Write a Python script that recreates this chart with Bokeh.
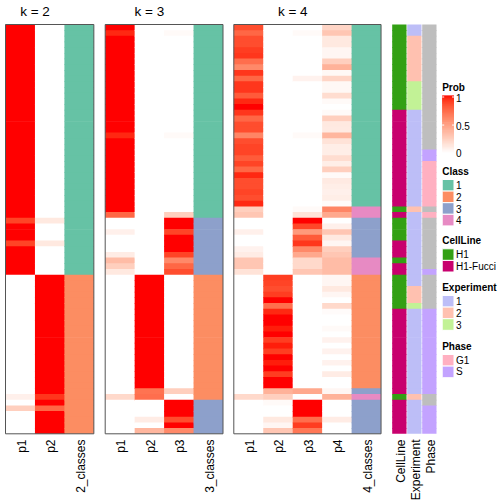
import math
import numpy as np
from bokeh.plotting import figure
from bokeh.models import Range1d, ColumnDataSource
from bokeh.transform import linear_cmap, factor_cmap
from bokeh.core.properties import value
from bokeh.embed import file_html
from bokeh.resources import INLINE

# ---------------- data ----------------
k2_p1 = [1, 1, 1, 1, 1, 1, 1, 1, 1, 1, 1, 1,
         1, 1, 1, 1, 1, 1, 1, 1, 1, 1, 1, 1,
         1, 1, 1, 1, 1, 1, 1, 1, 1, 1, 0.88, 1,
         1, 1, 0.88, 1, 1, 1, 1, 1, 0, 0, 0, 0,
         0, 0, 0, 0, 0, 0, 0, 0, 0, 0, 0, 0,
         0, 0, 0, 0, 0, 0.08, 0, 0.25, 0, 0, 0, 0]
k2_p2 = [0, 0, 0, 0, 0, 0, 0, 0, 0, 0, 0, 0,
         0, 0, 0, 0, 0, 0, 0, 0, 0, 0, 0, 0,
         0, 0, 0, 0, 0, 0, 0, 0, 0, 0, 0.12, 0,
         0, 0, 0.12, 0, 0, 0, 0, 0, 1, 1, 1, 1,
         1, 1, 1, 1, 1, 1, 1, 1, 1, 1, 1, 1,
         1, 1, 1, 1, 1, 0.92, 1, 0.75, 1, 1, 1, 1]
k2_class = list("111111111111" "111111111111" "111111111111"
                "111111112222" "222222222222" "222222222222")

k3_p1 = [1, 0.95, 1, 1, 1, 1, 1, 1, 1, 1, 1, 1,
         1, 1, 1, 1, 1, 1, 1, 0.95, 1, 1, 1, 1,
         1, 1, 1, 1, 1, 1, 1, 1, 1, 0.75, 0, 0,
         0.08, 0, 0, 0, 0.1, 0.35, 0.25, 0.12, 0, 0, 0, 0,
         0, 0, 0, 0, 0, 0, 0, 0, 0, 0, 0, 0,
         0, 0, 0, 0, 0, 0.2, 0, 0, 0, 0, 0, 0]
k3_p2 = [0, 0, 0, 0, 0, 0, 0, 0, 0, 0, 0, 0,
         0, 0, 0, 0, 0, 0, 0, 0, 0, 0, 0, 0,
         0, 0, 0, 0, 0, 0, 0, 0, 0, 0, 0, 0,
         0, 0, 0, 0, 0, 0, 0, 0, 1, 1, 1, 1,
         1, 1, 1, 1, 1, 1, 1, 1, 1, 1, 1, 1,
         1, 1, 1, 1, 0.7, 0.72, 0, 0, 0, 0.1, 0, 0.38]
k3_p3 = [0, 0.03, 0, 0, 0, 0, 0, 0, 0, 0, 0, 0,
         0, 0, 0, 0, 0, 0, 0, 0.03, 0, 0, 0, 0,
         0, 0, 0, 0, 0, 0, 0, 0, 0, 0.25, 1, 1,
         0.88, 1, 1, 1, 0.88, 0.6, 0.75, 0.85, 0, 0, 0, 0,
         0, 0, 0, 0, 0, 0, 0, 0, 0, 0, 0, 0,
         0, 0, 0, 0, 0.25, 0, 1, 1, 1, 0.85, 1, 0.6]
k3_class = list("111111111111" "111111111111" "111111111133"
                "333333332222" "222222222222" "222222333333")

k4_p1 = [0.85, 0.75, 0.85, 0.85, 0.9, 0.92, 0.72, 0.6, 0.92, 0.75, 0.92, 0.92,
         0.8, 0.95, 1, 0.92, 0.75, 0.85, 0.85, 0.62, 0.85, 0.88, 0.88, 0.8,
         0.88, 0.75, 0.95, 0.85, 0.85, 0.88, 0.85, 0.95, 0.25, 0.3, 0, 0,
         0.08, 0, 0, 0.07, 0.1, 0.3, 0.3, 0.15, 0, 0, 0, 0,
         0, 0, 0, 0, 0, 0, 0, 0, 0, 0, 0, 0,
         0, 0, 0, 0, 0, 0.2, 0, 0, 0, 0, 0, 0]
k4_p2 = [0, 0, 0, 0, 0, 0, 0, 0, 0, 0, 0, 0,
         0, 0, 0, 0, 0, 0, 0, 0, 0, 0, 0, 0,
         0, 0, 0, 0, 0, 0, 0, 0, 0, 0, 0, 0,
         0, 0, 0, 0, 0, 0, 0, 0, 0.9, 0.88, 0.85, 0.9,
         1, 0.72, 0.95, 1, 1, 0.97, 1, 0.9, 0.97, 0.9, 1, 0.97,
         1, 0.9, 1, 1, 0.4, 0.25, 0.03, 0, 0, 0.12, 0.05, 0.3]
k4_p3 = [0, 0.03, 0, 0, 0, 0, 0, 0, 0, 0.07, 0, 0,
         0, 0, 0, 0, 0, 0, 0, 0.03, 0, 0, 0, 0,
         0, 0, 0, 0, 0, 0, 0, 0, 0.03, 0.15, 1, 0.87,
         0.52, 0.8, 0.92, 0.6, 0.45, 0.2, 0.2, 0.3, 0, 0, 0, 0,
         0, 0, 0, 0, 0, 0, 0, 0, 0, 0, 0, 0,
         0, 0, 0, 0, 0.45, 0, 1, 1, 1, 0.72, 0.9, 0.68]
k4_p4 = [0.22, 0.3, 0.12, 0.12, 0.05, 0.05, 0.25, 0.4, 0.04, 0.22, 0.04, 0.04,
         0.18, 0.03, 0, 0.03, 0.25, 0.12, 0.11, 0.38, 0.15, 0.09, 0.09, 0.18,
         0.09, 0.25, 0.03, 0.11, 0.09, 0.08, 0.09, 0.02, 0.62, 0.45, 0, 0.08,
         0.3, 0.12, 0.05, 0.25, 0.3, 0.35, 0.35, 0.35, 0.05, 0.05, 0.12, 0.05,
         0, 0.2, 0.02, 0, 0, 0.03, 0, 0.07, 0, 0.07, 0, 0.07,
         0, 0.1, 0, 0, 0.05, 0.4, 0, 0, 0, 0.1, 0, 0]
k4_class = list("111111111111" "111111111111" "111111114433"
                "333334442222" "222222222222" "222234333333")

# annotations (H = H1, F = H1-Fucci ; N = NA)
cell_line_codes = list("HHHHHHHHHHHH" "HHHFFFFFFFFF" "FFFFFFFFHFHH"
                       "HHFFFHFFHHHH" "HHFFFFFFFFFF" "FFFFFHFFFFFF")
experiment = list("112222222233" "333111111111" "111111112111"
                  "111111111122" "231111111111" "111112111111")
phase_codes = list("NNNNNNNNNNNN" "NNNNNNNNNNSS" "GGGGGGGGNGNN"
                   "NNNNNNNSNNNN" "NNSSSSSSSSSS" "SSSSSNNSSSSS")

class_levels = ["1", "2", "3", "4"]
class_colors = ["#66C2A5", "#FC8D62", "#8DA0CB", "#E78AC3"]
cell_line_names = {"H": "H1", "F": "H1-Fucci"}
cell_line_levels = ["H1", "H1-Fucci"]
cell_line_colors = ["#33A014", "#C8006E"]
experiment_levels = ["1", "2", "3"]
experiment_colors = ["#BDBEF7", "#FFC1B0", "#C2F296"]
phase_names = {"G": "G1", "S": "S", "N": "NA"}
phase_levels = ["G1", "S"]
phase_colors = ["#FFB0C1", "#C3A3FF"]
na_color = "#BEBEBE"

cell_line = [cell_line_names[c] for c in cell_line_codes]
phase = [phase_names[c] for c in phase_codes]

# ---------------- colour ramp white -> red in LAB ----------------
def _to_lab(hexc):
    rgb = [int(hexc[i:i + 2], 16) / 255 for i in (1, 3, 5)]
    lin = [c / 12.92 if c <= 0.04045 else ((c + 0.055) / 1.055) ** 2.4 for c in rgb]
    X = 0.4124 * lin[0] + 0.3576 * lin[1] + 0.1805 * lin[2]
    Y = 0.2126 * lin[0] + 0.7152 * lin[1] + 0.0722 * lin[2]
    Z = 0.0193 * lin[0] + 0.1192 * lin[1] + 0.9505 * lin[2]
    def f(t):
        return t ** (1 / 3) if t > 0.008856 else 7.787 * t + 16 / 116
    fx, fy, fz = f(X / 0.95047), f(Y), f(Z / 1.08883)
    return 116 * fy - 16, 500 * (fx - fy), 200 * (fy - fz)

def _from_lab(L, a, b):
    fy = (L + 16) / 116
    fx = fy + a / 500
    fz = fy - b / 200
    def finv(t):
        return t ** 3 if t ** 3 > 0.008856 else (t - 16 / 116) / 7.787
    X, Y, Z = finv(fx) * 0.95047, finv(fy), finv(fz) * 1.08883
    r = 3.2406 * X - 1.5372 * Y - 0.4986 * Z
    g = -0.9689 * X + 1.8758 * Y + 0.0415 * Z
    bb = 0.0557 * X - 0.2040 * Y + 1.0570 * Z
    def gam(c):
        c = max(0.0, min(1.0, c))
        return 12.92 * c if c <= 0.0031308 else 1.055 * c ** (1 / 2.4) - 0.055
    return "#%02x%02x%02x" % tuple(int(round(gam(c) * 255)) for c in (r, g, bb))

_w = _to_lab("#FFFFFF")
_r = _to_lab("#FF0000")
prob_palette = [_from_lab(*[_w[j] + (_r[j] - _w[j]) * t for j in range(3)])
                for t in np.linspace(0, 1, 256)]

# ---------------- layout ----------------
N = len(k2_p1)
TOP, BOT = 24.0, 433.3
RH = (BOT - TOP) / N
CW = 29.45
OV = 0.7  # small overlap so that neighbouring cells leave no seams
PANEL_X = [5.0, 104.7, 233.3]
ANN_X = 391.7
ANN_W = 14.3
ANN_PITCH = 15.0
FONT = value("Liberation Sans")

panels = [
    (2, [k2_p1, k2_p2], k2_class),
    (3, [k3_p1, k3_p2, k3_p3], k3_class),
    (4, [k4_p1, k4_p2, k4_p3, k4_p4], k4_class),
]

p = figure(width=504, height=504, x_range=Range1d(0, 504), y_range=Range1d(504, 0),
           output_backend="svg", toolbar_location=None, min_border=0,
           x_axis_location=None, y_axis_location=None)
p.grid.visible = False
p.outline_line_color = None
p.background_fill_color = "white"
p.border_fill_color = "white"

prob_map = linear_cmap("v", prob_palette, 0, 1)
class_map = factor_cmap("c", class_colors, class_levels)

def row_top(i):
    return TOP + i * RH

def row_bot(i):
    return TOP + (i + 1) * RH + (OV if i < N - 1 else 0)

pr = dict(left=[], right=[], top=[], bottom=[], v=[])
cl = dict(left=[], right=[], top=[], bottom=[], c=[])
lab_x, lab_t = [], []
title_x, title_t = [], []
box = dict(left=[], right=[], top=[], bottom=[])
rows = np.arange(N)
for (k, probs, cls), x0 in zip(panels, PANEL_X):
    for j, col in enumerate(probs):
        for i in rows:
            pr["left"].append(x0 + j * CW)
            pr["right"].append(x0 + (j + 1) * CW + OV)
            pr["top"].append(row_top(i))
            pr["bottom"].append(row_bot(i))
            pr["v"].append(col[i])
        lab_x.append(x0 + (j + 0.5) * CW)
        lab_t.append("p%d" % (j + 1))
    for i in rows:
        cl["left"].append(x0 + k * CW)
        cl["right"].append(x0 + (k + 1) * CW)
        cl["top"].append(row_top(i))
        cl["bottom"].append(row_bot(i))
        cl["c"].append(cls[i])
    lab_x.append(x0 + (k + 0.5) * CW)
    lab_t.append("%d_classes" % k)
    title_x.append(x0 + k * CW / 2)
    title_t.append("k = %d" % k)
    box["left"].append(x0)
    box["right"].append(x0 + (k + 1) * CW)
    box["top"].append(TOP)
    box["bottom"].append(BOT)

p.quad(source=ColumnDataSource(pr), left="left", right="right", top="top", bottom="bottom",
       fill_color=prob_map, line_color=None)
p.quad(source=ColumnDataSource(cl), left="left", right="right", top="top", bottom="bottom",
       fill_color=class_map, line_color=None)
p.quad(source=ColumnDataSource(box), left="left", right="right", top="top", bottom="bottom",
       fill_color=None, line_color="#555555", line_width=1)

# annotation columns
ann = [("CellLine", cell_line, cell_line_levels, cell_line_colors),
       ("Experiment", experiment, experiment_levels, experiment_colors),
       ("Phase", phase, phase_levels, phase_colors)]
for a, (name, vals, levels, colors) in enumerate(ann):
    xl = ANN_X + a * ANN_PITCH
    src = ColumnDataSource(dict(left=[xl] * N, right=[xl + ANN_W] * N,
                                top=[row_top(i) for i in rows],
                                bottom=[row_bot(i) for i in rows],
                                c=vals))
    cmap = factor_cmap("c", colors, levels, nan_color=na_color)
    p.quad(source=src, left="left", right="right", top="top", bottom="bottom",
           fill_color=cmap, line_color=None)
    lab_x.append(xl + ANN_W / 2)
    lab_t.append(name)

# titles and column labels
p.text(x=title_x, y=[11] * len(title_x), text=title_t, text_font=FONT,
       text_font_size="13.5px", text_align="center", text_baseline="middle", text_color="#000000")
p.text(x=[x + 1.5 for x in lab_x], y=[439] * len(lab_x), text=lab_t, angle=math.pi / 2,
       text_font=FONT, text_font_size="12px", text_align="right", text_baseline="middle",
       text_color="#000000")

# ---------------- legends ----------------
LX = 441.7
LW = 11.8
TX = 455.5
PITCH = 11.6

def legend_title(y, t):
    p.text(x=[LX], y=[y], text=[t], text_font=FONT, text_font_size="10px",
           text_font_style="bold", text_align="left", text_baseline="middle", text_color="#000000")

def legend_labels(ys, ts):
    p.text(x=[TX] * len(ys), y=ys, text=ts, text_font=FONT, text_font_size="10px",
           text_align="left", text_baseline="middle", text_color="#000000")

# Prob colour bar
legend_title(86.5, "Prob")
CB_TOP, CB_BOT = 95.0, 152.6
steps = np.linspace(0, 1, 80)
cb_h = (CB_BOT - CB_TOP) / (len(steps) - 1)
cb_y = [CB_BOT - s * (CB_BOT - CB_TOP) for s in steps]
p.quad(source=ColumnDataSource(dict(left=[LX] * len(steps), right=[LX + LW] * len(steps),
                                    top=[max(CB_TOP, y - cb_h / 2 - OV) for y in cb_y],
                                    bottom=[min(CB_BOT, y + cb_h / 2) for y in cb_y],
                                    v=list(steps))),
       left="left", right="right", top="top", bottom="bottom",
       fill_color=prob_map, line_color=None)
tick_vals = [1, 0.5]
tick_y = [CB_BOT - t * (CB_BOT - CB_TOP - 1.5) for t in tick_vals]
p.segment(x0=[LX] * 2 + [LX + LW - 2] * 2, x1=[LX + 2] * 2 + [LX + LW] * 2,
          y0=tick_y * 2, y1=tick_y * 2, line_color="white", line_width=1)
legend_labels([97.5, 125, 152.5], ["1", "0.5", "0"])

def legend_boxes(title, ty, levels, colors):
    legend_title(ty, title)
    tops = [ty + 8.3 + i * PITCH for i in range(len(levels))]
    p.quad(left=[LX] * len(levels), right=[LX + LW] * len(levels), top=tops,
           bottom=[t + PITCH for t in tops], fill_color=colors, line_color="white",
           line_width=1)
    legend_labels([t + PITCH / 2 for t in tops], levels)

legend_boxes("Class", 170.7, class_levels, class_colors)
legend_boxes("CellLine", 240.0, cell_line_levels, cell_line_colors)
legend_boxes("Experiment", 286.7, experiment_levels, experiment_colors)
legend_boxes("Phase", 345.7, phase_levels, phase_colors)

open("out.html", "w").write(file_html(p, INLINE))
